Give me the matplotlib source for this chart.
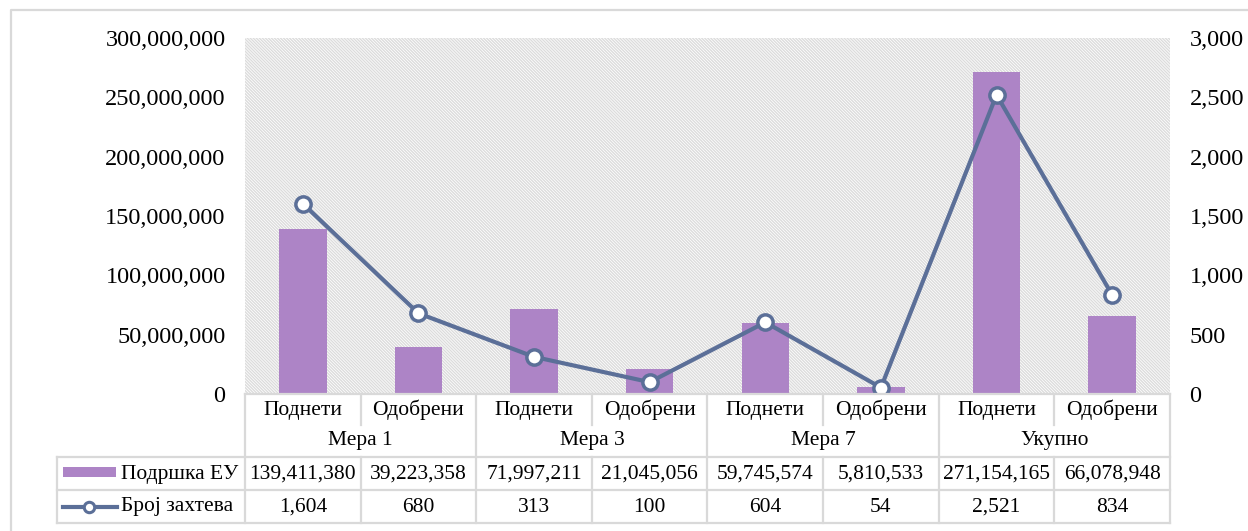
import matplotlib
matplotlib.use('Agg')
import matplotlib.pyplot as plt
from matplotlib.patches import Rectangle
from matplotlib.lines import Line2D
from matplotlib.ticker import FuncFormatter, MultipleLocator
from matplotlib.transforms import blended_transform_factory
import numpy as np

plt.rcParams['font.family'] = ['Liberation Serif', 'DejaVu Serif']
plt.rcParams['hatch.linewidth'] = 1.0

groups = ['Мера 1', 'Мера 3', 'Мера 7', 'Укупно']
types = ['Поднети', 'Одобрени']
support = [139411380, 39223358, 71997211, 21045056, 59745574, 5810533, 271154165, 66078948]
requests = [1604, 680, 313, 100, 604, 54, 2521, 834]
bar_label = 'Подршка ЕУ'
line_label = 'Број захтева'

bar_col = '#ad84c6'
line_col = '#5b6f98'
grid_col = '#d9d9d9'
W, H = 1248, 531

fig = plt.figure(figsize=(12.48, 5.31), dpi=100)
ax = fig.add_axes([245 / W, 1 - 394 / H, (1170 - 245) / W, (394 - 38) / H])
ax2 = ax.twinx()

# hatched plot area
ax.add_patch(Rectangle((0, 0), 1, 1, transform=ax.transAxes, facecolor='white',
                       edgecolor='#dcdcdc', hatch='\\' * 11, lw=0, zorder=0))

x = np.arange(len(support))
ax.bar(x, support, width=0.41, color=bar_col, zorder=2)
ax2.plot(x, requests, color=line_col, lw=3, marker='o', ms=11,
         mfc='white', mec=line_col, mew=2.5, zorder=3)

ax.set_xlim(-0.5, len(x) - 0.5)
ax.set_ylim(0, 300e6)
ax2.set_ylim(0, 3000)
ax.yaxis.set_major_locator(MultipleLocator(50e6))
ax2.yaxis.set_major_locator(MultipleLocator(500))
fmt = FuncFormatter(lambda v, p: f'{v:,.0f}')
ax.yaxis.set_major_formatter(fmt)
ax2.yaxis.set_major_formatter(fmt)
ax.set_xticks([])
for a in (ax, ax2):
    for s in a.spines.values():
        s.set_visible(False)
    a.tick_params(axis='y', length=0, labelsize=17.5, pad=14)

# data table below the axes
tr = blended_transform_factory(ax.transData, fig.transFigure)
fy = lambda p: 1 - p / H
fx = lambda p: p / W

def hline(x0, x1, yp):
    fig.add_artist(Line2D([x0, x1], [fy(yp), fy(yp)], transform=tr, color=grid_col, lw=1.6))

def vline(xd, y0, y1):
    fig.add_artist(Line2D([xd, xd], [fy(y0), fy(y1)], transform=tr, color=grid_col, lw=1.6))

left_d = ax.transData.inverted().transform((57, 0))[0]
hline(-0.5, 7.5, 394)
for yp in (457, 490, 523):
    hline(left_d, 7.5, yp)
vline(left_d, 457, 523)
for b in np.arange(-0.5, 8, 2):
    vline(b, 394, 523)
for b in np.arange(0.5, 8, 2):
    vline(b, 394, 425)
    vline(b, 457, 523)

fs = 15.5
for i in x:
    fig.text(i, fy(410), types[i % 2], transform=tr, ha='center', va='center', fontsize=fs)
    fig.text(i, fy(474), f'{support[i]:,}', transform=tr, ha='center', va='center', fontsize=fs)
    fig.text(i, fy(507), f'{requests[i]:,}', transform=tr, ha='center', va='center', fontsize=fs)
for g, name in enumerate(groups):
    fig.text(2 * g + 0.5, fy(441), name, transform=tr, ha='center', va='center', fontsize=fs)

# legend keys in the table header column
fig.add_artist(Rectangle((fx(63), fy(477)), fx(116) - fx(63), fy(467) - fy(477),
                         transform=fig.transFigure, color=bar_col, lw=0))
fig.add_artist(Line2D([fx(63), fx(117)], [fy(507), fy(507)], transform=fig.transFigure,
                      color=line_col, lw=3))
fig.add_artist(Line2D([fx(89)], [fy(507)], transform=fig.transFigure, marker='o', ms=7.5,
                      mfc='white', mec=line_col, mew=2.2))
fig.text(fx(121), fy(474), bar_label, ha='left', va='center', fontsize=fs)
fig.text(fx(121), fy(507), line_label, ha='left', va='center', fontsize=fs)

# outer chart border (cropped on right and bottom)
fig.add_artist(Line2D([fx(11), fx(11), 1], [0, fy(10), fy(10)], transform=fig.transFigure,
                      color=grid_col, lw=1.6))

fig.savefig('out.png', dpi=100)
